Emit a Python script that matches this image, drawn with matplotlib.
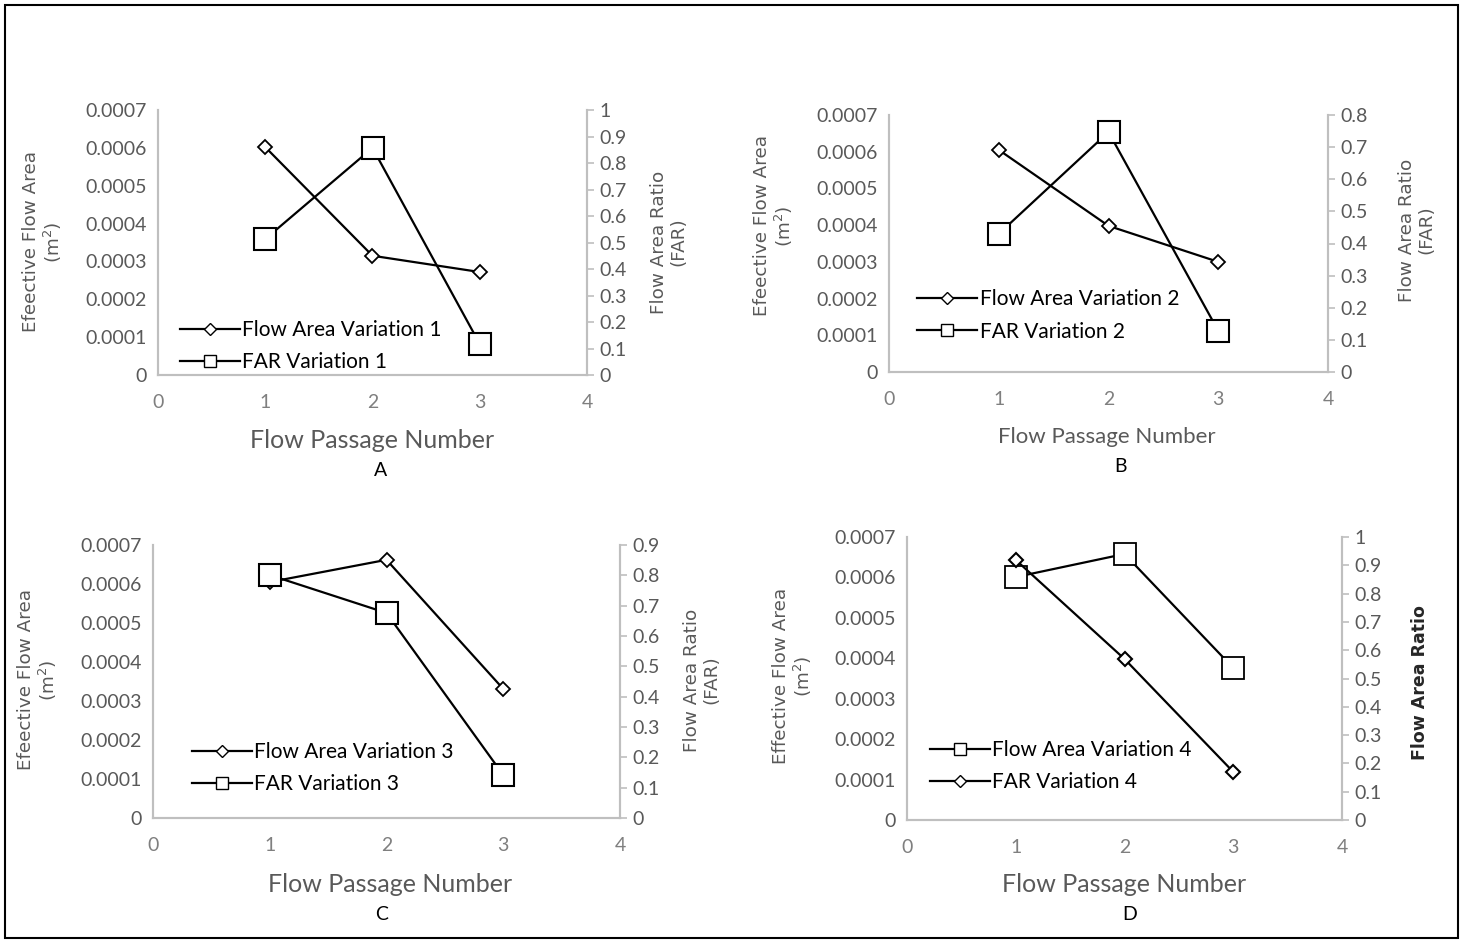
import matplotlib.pyplot as plt
from matplotlib.lines import Line2D
from matplotlib.patches import Rectangle
import numpy as np

W, H = 1463, 941

# data
passage = [1, 2, 3]

area_1 = [0.000602, 0.000315, 0.000272]
far_1 = [0.513, 0.857, 0.117]

area_2 = [0.000605, 0.000398, 0.000300]
far_2 = [0.430, 0.747, 0.128]

area_3 = [0.000605, 0.000662, 0.000331]
far_3 = [0.801, 0.676, 0.142]

area_4 = [0.000601, 0.000658, 0.000376]
far_4 = [0.919, 0.569, 0.170]

right_max = [1.0, 0.8, 0.9, 1.0]

GRAY = '#bfbfbf'
TXT = '#595959'
NARROW = ['Lato', 'DejaVu Sans']


def px_axes(fig, x0, y0, x1, y1):
    return fig.add_axes([x0 / W, 1 - y1 / H, (x1 - x0) / W, (y1 - y0) / H])


def ftext(fig, x, y, s, **kw):
    fig.text(x / W, 1 - y / H, s, ha='center', va='center', **kw)


def panel(fig, box, area, far, rmax, area_marker, far_marker,
          area_label, far_label, leg_xy):
    ax = px_axes(fig, *box)
    ax2 = ax.twinx()

    ms = {'D': 7, 's': 16}
    ax.plot(passage, area, color='black', lw=1.6, marker=area_marker,
            ms=ms[area_marker], mfc='white', mec='black', mew=1.3, zorder=3)
    ax2.plot(passage, far, color='black', lw=1.6, marker=far_marker,
             ms=ms[far_marker], mfc='white', mec='black', mew=1.5, zorder=3)

    ax.set_xlim(0, 4)
    ax.set_ylim(0, 0.0007)
    ax2.set_ylim(0, rmax)
    ax.set_xticks(np.arange(0, 5))
    ax.set_yticks(np.arange(0, 8) * 0.0001)
    ax2.set_yticks(np.round(np.arange(0, rmax + 0.05, 0.1), 1))
    ax.yaxis.set_major_formatter(plt.FuncFormatter(lambda v, p: '%g' % round(v, 6)))
    ax2.yaxis.set_major_formatter(plt.FuncFormatter(lambda v, p: '%g' % round(v, 2)))

    for a in (ax, ax2):
        a.spines['top'].set_visible(False)
        for s in ('left', 'right', 'bottom'):
            a.spines[s].set_color(GRAY)
            a.spines[s].set_linewidth(1.5)
        a.patch.set_visible(False)
    ax.tick_params(axis='both', length=0, pad=8, colors=TXT, labelsize=14)
    ax.tick_params(axis='x', pad=14, colors='#7f7f7f')
    ax2.tick_params(axis='y', length=5, width=1.2, color=GRAY, pad=4,
                    labelcolor=TXT, labelsize=14)
    for lab in ax.get_xticklabels() + ax.get_yticklabels() + ax2.get_yticklabels():
        lab.set_family(NARROW)

    handles = [
        Line2D([], [], color='black', lw=1.6, marker=area_marker,
               ms=6 if area_marker == 'D' else 8, mfc='white', mec='black'),
        Line2D([], [], color='black', lw=1.6, marker=far_marker,
               ms=6 if far_marker == 'D' else 8, mfc='white', mec='black'),
    ]
    ax2.legend(handles, [area_label, far_label], loc='upper left',
               bbox_to_anchor=(leg_xy[0] / W, 1 - leg_xy[1] / H),
               bbox_transform=fig.transFigure, frameon=False,
               prop={'family': NARROW, 'size': 15}, handlelength=2.9,
               handletextpad=0.1, labelspacing=0.6, borderpad=0, borderaxespad=0)
    return ax, ax2


fig = plt.figure(figsize=(W / 100, H / 100), dpi=100)

fig.patches.append(Rectangle((5 / W, 3 / H), 1453 / W, 933 / H,
                             transform=fig.transFigure, fill=False,
                             edgecolor='black', lw=1.5))

# A
panel(fig, (158, 110, 587, 375), area_1, far_1, right_max[0], 'D', 's',
      'Flow Area Variation 1', 'FAR Variation 1', (180, 320))
ftext(fig, 43, 242, 'Efeective Flow Area\n(m$^2$)', rotation=90, fontsize=13.2,
      color=TXT, linespacing=1.1)
ftext(fig, 669, 242, 'Flow Area Ratio\n(FAR)', rotation=90, fontsize=13.2,
      color=TXT, linespacing=1.1)
ftext(fig, 372, 440, 'Flow Passage Number', fontsize=18, color=TXT, family=NARROW)
ftext(fig, 381, 471, 'A', fontsize=14, color='black', family=NARROW)

# B
panel(fig, (889, 115, 1328, 372), area_2, far_2, right_max[1], 'D', 's',
      'Flow Area Variation 2', 'FAR Variation 2', (917, 289))
ftext(fig, 774, 226, 'Efeective Flow Area\n(m$^2$)', rotation=90, fontsize=13.2,
      color=TXT, linespacing=1.1)
ftext(fig, 1417, 230, 'Flow Area Ratio\n(FAR)', rotation=90, fontsize=13.2,
      color=TXT, linespacing=1.1)
ftext(fig, 1107, 437, 'Flow Passage Number', fontsize=16, color=TXT, family=NARROW)
ftext(fig, 1120, 466, 'B', fontsize=14, color='black', family=NARROW)

# C
panel(fig, (153, 545, 620, 818), area_3, far_3, right_max[2], 'D', 's',
      'Flow Area Variation 3', 'FAR Variation 3', (192, 742))
ftext(fig, 38, 680, 'Efeective Flow Area\n(m$^2$)', rotation=90, fontsize=13.2,
      color=TXT, linespacing=1.1)
ftext(fig, 702, 680, 'Flow Area Ratio\n(FAR)', rotation=90, fontsize=13.2,
      color=TXT, linespacing=1.1)
ftext(fig, 390, 884, 'Flow Passage Number', fontsize=18, color=TXT, family=NARROW)
ftext(fig, 382, 915, 'C', fontsize=14, color='black', family=NARROW)

# D
panel(fig, (907, 537, 1342, 820), area_4, far_4, right_max[3], 's', 'D',
      'Flow Area Variation 4', 'FAR Variation 4', (930, 740))
ftext(fig, 793, 676, 'Effective Flow Area\n(m$^2$)', rotation=90, fontsize=13.2,
      color=TXT, linespacing=1.1)
ftext(fig, 1420, 683, 'Flow Area Ratio', rotation=90, fontsize=12.5,
      color='#262626', fontweight='bold')
ftext(fig, 1124, 884, 'Flow Passage Number', fontsize=18, color=TXT, family=NARROW)
ftext(fig, 1130, 915, 'D', fontsize=14, color='black', family=NARROW)

fig.savefig('out.png', dpi=100)
